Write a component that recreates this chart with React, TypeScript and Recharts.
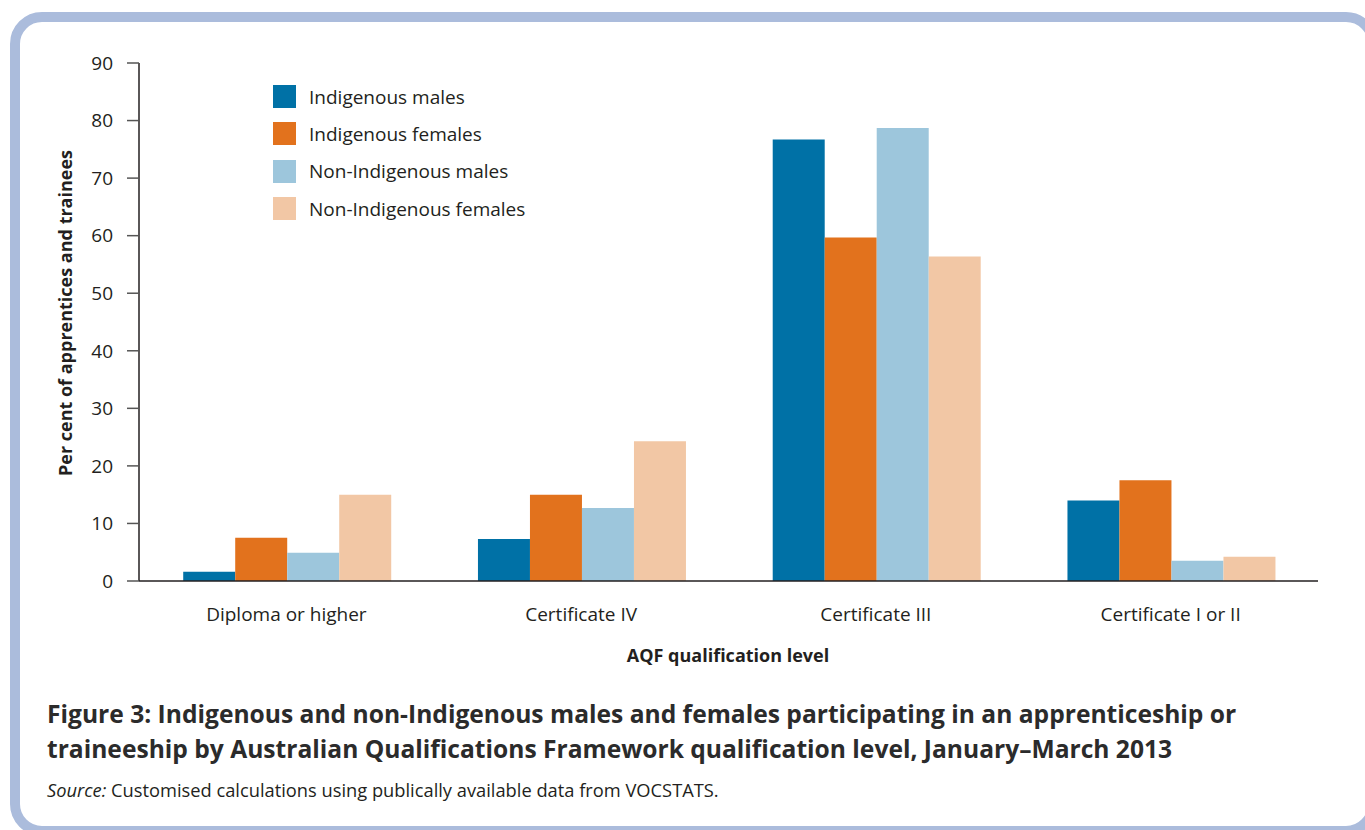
import type { CSSProperties } from "react"
import { BarChart, Bar, XAxis, YAxis } from "recharts"

const categories = ["Diploma or higher", "Certificate IV", "Certificate III", "Certificate I or II"]
const indigenousMales = [1.6, 7.3, 76.7, 14.0]
const indigenousFemales = [7.5, 15.0, 59.7, 17.5]
const nonIndigenousMales = [4.9, 12.7, 78.7, 3.5]
const nonIndigenousFemales = [15.0, 24.3, 56.4, 4.2]
const yTicks = [0, 10, 20, 30, 40, 50, 60, 70, 80, 90]

const SERIES = [
	{ key: "im", name: "Indigenous males", color: "#0071a6" },
	{ key: "if", name: "Indigenous females", color: "#e2721d" },
	{ key: "nm", name: "Non-Indigenous males", color: "#9dc6dc" },
	{ key: "nf", name: "Non-Indigenous females", color: "#f2c7a5" },
]

const data = categories.map((c, i) => ({
	category: c,
	im: indigenousMales[i],
	if: indigenousFemales[i],
	nm: nonIndigenousMales[i],
	nf: nonIndigenousFemales[i],
}))

const FONT = "'Open Sans', 'Noto Sans', sans-serif"
const INK = "#231f20"
const TICK = { fill: INK, fontSize: 19, fontFamily: FONT }

// right side of the frame runs just off the page, like the cropped original
const FRAME: CSSProperties = {
	position: "absolute",
	left: 10,
	top: 12,
	width: 1348,
	height: 804,
	border: "10px solid #abbcdc",
	borderRadius: 32,
	background: "#fff",
}

const AXIS_TITLE: CSSProperties = {
	position: "absolute",
	whiteSpace: "nowrap",
	fontWeight: 700,
	fontSize: 18,
	color: INK,
}

// plain html legend so recharts doesn't shrink the plot area for it
function ChartLegend() {
	return (
		<div style={{ position: "absolute", left: 273, top: 78, fontSize: 19, color: INK }}>
			{SERIES.map((s) => (
				<div key={s.key} style={{ display: "flex", alignItems: "center", height: 37.3 }}>
					<div style={{ width: 23, height: 23, background: s.color, marginRight: 13 }} />
					<span>{s.name}</span>
				</div>
			))}
		</div>
	)
}

export default function App() {
	return (
		<div style={{ position: "fixed", inset: 0, overflow: "hidden", background: "#fff", fontFamily: FONT }}>
			<div style={FRAME} />
			<div style={{ position: "absolute", left: 0, top: 0 }}>
				<BarChart
					width={1365}
					height={700}
					data={data}
					margin={{ top: 63, right: 47, bottom: 79, left: 0 }}
					barCategoryGap="15%"
					barGap={0}
				>
					<XAxis
						dataKey="category"
						tick={TICK}
						tickLine={false}
						tickMargin={21}
						height={40}
						axisLine={{ stroke: INK, strokeWidth: 1.5 }}
					/>
					<YAxis
						domain={[0, 90]}
						ticks={yTicks}
						tick={TICK}
						tickSize={12}
						tickMargin={14}
						width={139}
						axisLine={{ stroke: INK, strokeWidth: 1.5 }}
						tickLine={{ stroke: "#555", strokeWidth: 1.5 }}
					/>
					{SERIES.map((s) => (
						<Bar key={s.key} dataKey={s.key} name={s.name} fill={s.color} isAnimationActive={false} />
					))}
				</BarChart>
			</div>
			<ChartLegend />
			<div style={{ ...AXIS_TITLE, left: 65, top: 313, transform: "translate(-50%, -50%) rotate(-90deg)" }}>
				Per cent of apprentices and trainees
			</div>
			<div style={{ ...AXIS_TITLE, left: 728, top: 655, transform: "translate(-50%, -50%)" }}>
				AQF qualification level
			</div>
			<div
				style={{
					position: "absolute",
					left: 47,
					top: 696,
					fontWeight: 700,
					fontSize: 24.6,
					lineHeight: "35px",
					color: "#2b2b2b",
				}}
			>
				<div style={{ whiteSpace: "nowrap" }}>
					Figure 3: Indigenous and non-Indigenous males and females participating in an apprenticeship or
				</div>
				<div style={{ whiteSpace: "nowrap" }}>
					traineeship by Australian Qualifications Framework qualification level, January–March 2013
				</div>
			</div>
			<div style={{ position: "absolute", left: 47, top: 777, fontSize: 18.3, color: INK, whiteSpace: "nowrap" }}>
				<i>Source:</i> Customised calculations using publically available data from VOCSTATS.
			</div>
		</div>
	)
}
